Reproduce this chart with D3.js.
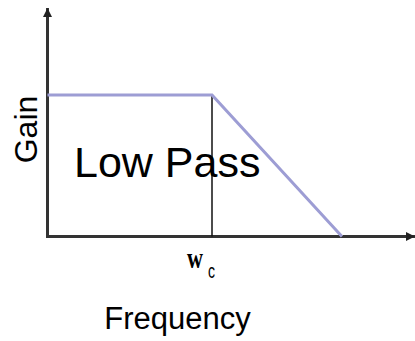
<!DOCTYPE html>
<html>
<head>
<meta charset="utf-8">
<script src="https://cdn.jsdelivr.net/npm/d3@7"></script>
<style>
  html, body { margin: 0; padding: 0; background: #fff; }
  svg { display: block; }
</style>
</head>
<body>
<svg width="415" height="341"></svg>
<script>
// filter response (normalised frequency, gain)
var freq = [0, 1, 1.79];
var gain = [1, 1, 0];
var cutoff = 1;
var cutoffLabel = ['w', 'c'];
var xTitle = 'Frequency';
var yTitle = 'Gain';
var bandLabel = 'Low Pass';

var svg = d3.select('svg');
var x0 = 47.5, y0 = 236.5;

var xscale = d3.scaleLinear().domain([0, 2.234]).range([x0, 415]);
var yscale = d3.scaleLinear().domain([0, 1.615]).range([y0, 8]);

var defs = svg.append('defs');
defs.append('marker')
  .attr('id', 'arr')
  .attr('viewBox', '0 0 10 10')
  .attr('refX', 10).attr('refY', 5)
  .attr('markerWidth', 9).attr('markerHeight', 10)
  .attr('markerUnits', 'userSpaceOnUse')
  .attr('orient', 'auto')
  .append('path').attr('d', 'M0,0L10,5L0,10Z').attr('fill', '#222');

// axes
var axes = svg.append('g');
axes.append('line')
  .attr('x1', xscale(0)).attr('y1', yscale(0))
  .attr('x2', xscale(0)).attr('y2', yscale(1.615))
  .attr('stroke', '#333').attr('stroke-width', 3)
  .attr('marker-end', 'url(#arr)');
axes.append('line')
  .attr('x1', xscale(0) - 1.5).attr('y1', yscale(0))
  .attr('x2', xscale(2.234)).attr('y2', yscale(0))
  .attr('stroke', '#333').attr('stroke-width', 3)
  .attr('marker-end', 'url(#arr)');

// cutoff marker
svg.append('line')
  .attr('x1', xscale(cutoff)).attr('x2', xscale(cutoff))
  .attr('y1', yscale(1)).attr('y2', yscale(0))
  .attr('stroke', '#111').attr('stroke-width', 1.5);

// response
var line = d3.line().x((d, i) => xscale(freq[i])).y(d => yscale(d));
svg.append('path')
  .datum(gain)
  .attr('d', line)
  .attr('fill', 'none')
  .attr('stroke', '#9d9dd4')
  .attr('stroke-width', 3);

// texts
svg.append('text')
  .attr('x', 74).attr('y', 177)
  .attr('font-family', 'Liberation Sans, Arial, sans-serif')
  .attr('font-size', 43)
  .attr('fill', '#000')
  .text(bandLabel);

svg.append('text')
  .attr('transform', 'translate(37,129.5) rotate(-90)')
  .attr('text-anchor', 'middle')
  .attr('font-family', 'Liberation Sans, Arial, sans-serif')
  .attr('font-size', 32)
  .text(yTitle);

svg.append('text')
  .attr('x', 177.5).attr('y', 329)
  .attr('text-anchor', 'middle')
  .attr('font-family', 'Liberation Sans, Arial, sans-serif')
  .attr('font-size', 31)
  .text(xTitle);

var wc = svg.append('g');
wc.append('text')
  .attr('x', 187).attr('y', 268)
  .attr('font-family', 'Liberation Serif, Times New Roman, serif')
  .attr('font-size', 30)
  .attr('font-weight', 'bold')
  .attr('textLength', 16).attr('lengthAdjust', 'spacingAndGlyphs')
  .text(cutoffLabel[0]);
wc.append('text')
  .attr('x', 208).attr('y', 278)
  .attr('font-family', 'Liberation Sans, Arial, sans-serif')
  .attr('font-size', 20)
  .attr('textLength', 7).attr('lengthAdjust', 'spacingAndGlyphs')
  .text(cutoffLabel[1]);
</script>
</body>
</html>
